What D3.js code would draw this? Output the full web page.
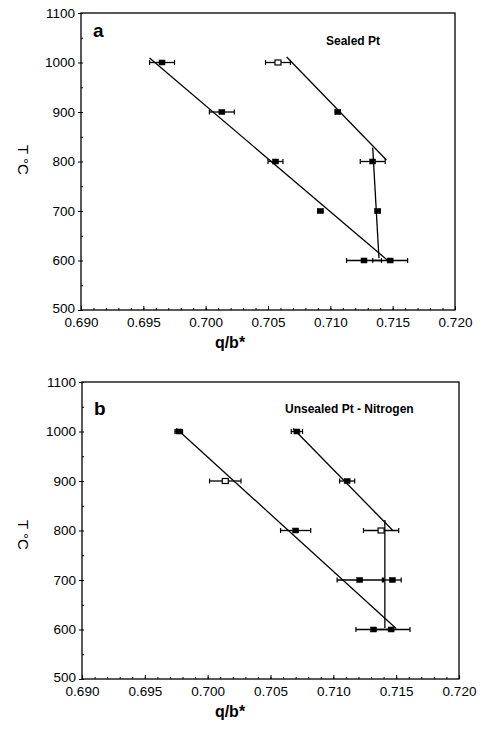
<!DOCTYPE html>
<html>
<head>
<meta charset="utf-8">
<script src="https://cdn.jsdelivr.net/npm/d3@7"></script>
<style>
  html, body { margin: 0; padding: 0; background: #fff; }
  svg { display: block; }
</style>
</head>
<body>
<svg id="chart" width="480" height="729"></svg>
<script>
// Temperatures (°C) of the measurements
const temps = [1000, 900, 800, 700, 600];

// Panel a: sealed Pt capsules
const sealedLeftQ    = [0.6965, 0.7013, 0.7056, 0.7092, 0.7148];
const sealedLeftErr  = [0.0010, 0.0010, 0.0006, 0.0002, 0.0014];
const sealedRightQ   = [0.7058, 0.7106, 0.7134, 0.7138, 0.7127];
const sealedRightErr = [0.0010, 0.0002, 0.0010, 0.0002, 0.0014];
const sealedRightOpen = [true, false, false, false, false];

// Fitted trend lines for panel a, as [q/b*, T] end points
const sealedFitLeft  = [[0.6955, 1009], [0.7147, 598]];
const sealedFitRight = [[0.7065, 1011], [0.7145, 803]];
const sealedFitVert  = [[0.7134, 828], [0.7139, 605]];

// Panel b: unsealed Pt under nitrogen
const unsealedLeftQ    = [0.6977, 0.7014, 0.7070, 0.7121, 0.7146];
const unsealedLeftErr  = [0.0003, 0.00125, 0.0012, 0.0018, 0.0015];
const unsealedLeftOpen = [false, true, false, false, false];
const unsealedRightQ   = [0.7071, 0.7111, 0.7138, 0.7147, 0.7132];
const unsealedRightErr = [0.00045, 0.0006, 0.0014, 0.0007, 0.0014];
const unsealedRightOpen = [false, false, true, false, false];

const unsealedFitLeft  = [[0.6975, 1006], [0.7150, 602]];
const unsealedFitRight = [[0.7068, 1006], [0.7147, 801]];
const unsealedFitVert  = [[0.7141, 821], [0.7141, 603]];

// Axis ticks
const xTicks = [0.690, 0.695, 0.700, 0.705, 0.710, 0.715, 0.720];
const yTicks = [500, 600, 700, 800, 900, 1000, 1100];
const panelLetters = ["a", "b"];
const panelTitles = ["Sealed Pt", "Unsealed Pt - Nitrogen"];

const FONT = "Arial, 'Liberation Sans', Helvetica, sans-serif";
const svg = d3.select("#chart");

function makeSeries(q, err, open) {
  return temps.map((t, i) => ({ t, q: q[i], e: err[i], open: open ? open[i] : false }));
}

const panels = [
  {
    left: 81, right: 455, top: 13, bottom: 310,
    series: [makeSeries(sealedLeftQ, sealedLeftErr), makeSeries(sealedRightQ, sealedRightErr, sealedRightOpen)],
    fits: [sealedFitLeft, sealedFitRight, sealedFitVert],
    titleX: 326, titleY: 45, yLabelY: 160
  },
  {
    left: 82, right: 459, top: 382, bottom: 679,
    series: [makeSeries(unsealedLeftQ, unsealedLeftErr, unsealedLeftOpen), makeSeries(unsealedRightQ, unsealedRightErr, unsealedRightOpen)],
    fits: [unsealedFitLeft, unsealedFitRight, unsealedFitVert],
    titleX: 285, titleY: 413, yLabelY: 535
  }
];

panels.forEach((p, idx) => {
  const x = d3.scaleLinear().domain([0.690, 0.720]).range([p.left, p.right]);
  const y = d3.scaleLinear().domain([500, 1100]).range([p.bottom, p.top]);
  const g = svg.append("g");

  // plot frame
  g.append("rect")
    .attr("x", p.left).attr("y", p.top)
    .attr("width", p.right - p.left).attr("height", p.bottom - p.top)
    .attr("fill", "none").attr("stroke", "#000").attr("stroke-width", 1.3);

  // minor ticks on x (every 0.001) and y (every 50)
  const xMinor = d3.range(0, 31).map(i => 0.690 + i * 0.001);
  const yMinor = d3.range(0, 13).map(i => 500 + i * 50);

  const gxMinor = g.append("g").attr("transform", `translate(0,${p.bottom})`)
    .call(d3.axisBottom(x).tickValues(xMinor).tickSize(-2).tickFormat(""));
  gxMinor.select(".domain").remove();

  const gx = g.append("g").attr("transform", `translate(0,${p.bottom})`)
    .call(d3.axisBottom(x).tickValues(xTicks).tickSizeInner(-4).tickSizeOuter(0)
      .tickPadding(7).tickFormat(d3.format(".3f")));
  gx.select(".domain").remove();
  gx.selectAll("text").attr("font-family", FONT).attr("font-size", 13.5).attr("fill", "#000");

  const gyMinor = g.append("g").attr("transform", `translate(${p.left},0)`)
    .call(d3.axisLeft(y).tickValues(yMinor).tickSize(-2).tickFormat(""));
  gyMinor.select(".domain").remove();

  const gy = g.append("g").attr("transform", `translate(${p.left},0)`)
    .call(d3.axisLeft(y).tickValues(yTicks).tickSizeInner(3).tickSizeOuter(0)
      .tickPadding(3).tickFormat(d3.format("d")));
  gy.select(".domain").remove();
  gy.selectAll("text").attr("font-family", FONT).attr("font-size", 13.5).attr("fill", "#000");
  // keep the lowest temperature label clear of the first q/b* label
  gy.selectAll(".tick").filter(d => d === 500).select("text").attr("dy", "0.2em");

  g.selectAll(".tick line").attr("stroke", "#000").attr("stroke-width", 1);

  // axis titles
  g.append("text")
    .attr("x", 230).attr("y", p.bottom + 38)
    .attr("text-anchor", "middle")
    .attr("font-family", FONT).attr("font-size", 16).attr("font-weight", "bold")
    .text("q/b*");

  g.append("text")
    .attr("transform", `translate(18,${p.yLabelY}) rotate(90)`)
    .attr("text-anchor", "middle")
    .attr("font-family", FONT).attr("font-size", 15)
    .text("T °C");

  // panel letter and title
  g.append("text")
    .attr("x", p.left + 12).attr("y", p.top + (idx === 0 ? 24 : 33))
    .attr("font-family", FONT).attr("font-size", 19).attr("font-weight", "bold")
    .text(panelLetters[idx]);

  g.append("text")
    .attr("x", p.titleX).attr("y", p.titleY)
    .attr("font-family", FONT).attr("font-size", 12).attr("font-weight", "bold")
    .text(panelTitles[idx]);

  // fitted lines
  const line = d3.line().x(d => x(d[0])).y(d => y(d[1]));
  g.selectAll(null).data(p.fits).enter().append("path")
    .attr("d", line)
    .attr("fill", "none").attr("stroke", "#000").attr("stroke-width", 1.3);

  // error bars and markers
  p.series.forEach(s => {
    const eb = g.append("g");
    eb.selectAll(null).data(s).enter().append("line")
      .attr("x1", d => x(d.q - d.e)).attr("x2", d => x(d.q + d.e))
      .attr("y1", d => y(d.t)).attr("y2", d => y(d.t))
      .attr("stroke", "#000").attr("stroke-width", 1.3);
    ["lo", "hi"].forEach(side => {
      eb.selectAll(null).data(s).enter().append("line")
        .attr("x1", d => x(side === "lo" ? d.q - d.e : d.q + d.e))
        .attr("x2", d => x(side === "lo" ? d.q - d.e : d.q + d.e))
        .attr("y1", d => y(d.t) - 2.5).attr("y2", d => y(d.t) + 2.5)
        .attr("stroke", "#000").attr("stroke-width", 1.2);
    });
    eb.selectAll(null).data(s).enter().append("rect")
      .attr("x", d => x(d.q) - 3).attr("y", d => y(d.t) - 2.5)
      .attr("width", 6).attr("height", 5)
      .attr("fill", d => d.open ? "#fff" : "#000")
      .attr("stroke", "#000").attr("stroke-width", d => d.open ? 1.2 : 0.5);
  });
});
</script>
</body>
</html>
